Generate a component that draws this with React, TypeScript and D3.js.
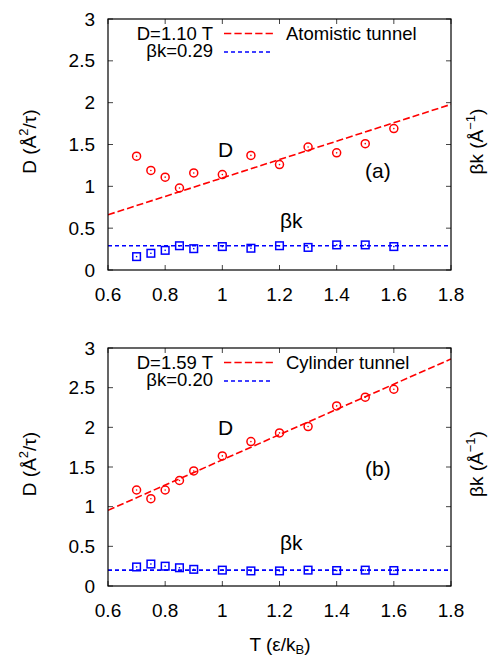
import React from "react";
import * as d3 from "d3";

// ---- data ----
const T = [0.7, 0.75, 0.8, 0.85, 0.9, 1.0, 1.1, 1.2, 1.3, 1.4, 1.5, 1.6];
const D_A = [1.36, 1.19, 1.11, 0.98, 1.16, 1.14, 1.37, 1.26, 1.47, 1.4, 1.51, 1.69];
const BK_A = [0.16, 0.2, 0.235, 0.29, 0.255, 0.28, 0.26, 0.29, 0.27, 0.3, 0.3, 0.28];
const D_B = [1.21, 1.1, 1.21, 1.33, 1.45, 1.64, 1.82, 1.93, 2.01, 2.27, 2.38, 2.48];
const BK_B = [0.24, 0.277, 0.25, 0.23, 0.21, 0.2, 0.19, 0.19, 0.2, 0.195, 0.2, 0.195];
const FIT_SLOPE = [1.1, 1.59];
const FIT_BK = [0.29, 0.2];
const FIT_D_LABELS = ["D=1.10 T", "D=1.59 T"];
const FIT_BK_LABELS = ["\u03b2k=0.29", "\u03b2k=0.20"];
const TUNNEL_LABELS = ["Atomistic tunnel", "Cylinder tunnel"];
const PANEL_LABELS = ["(a)", "(b)"];
const X_TICKS = [0.6, 0.8, 1.0, 1.2, 1.4, 1.6, 1.8];
const Y_TICKS = [0, 0.5, 1, 1.5, 2, 2.5, 3];
const X_DOMAIN: [number, number] = [0.6, 1.8];
const Y_DOMAIN: [number, number] = [0, 3];

const FONT = "'Liberation Sans', Arial, Helvetica, sans-serif";
const RED = "#ff0000";
const BLUE = "#0000ff";

const LEFT = 108;
const RIGHT = 451;

type PanelProps = {
  idx: number;
  top: number;
  bottom: number;
  dVals: number[];
  bkVals: number[];
};

function Panel({ idx, top, bottom, dVals, bkVals }: PanelProps) {
  const x = d3.scaleLinear().domain(X_DOMAIN).range([LEFT, RIGHT]);
  const y = d3.scaleLinear().domain(Y_DOMAIN).range([bottom, top]);
  const slope = FIT_SLOPE[idx];
  const bk = FIT_BK[idx];
  const fitLine = d3
    .line<number>()
    .x((t) => x(t))
    .y((t) => y(slope * t));
  const bkLine = d3
    .line<number>()
    .x((t) => x(t))
    .y(() => y(bk));
  const clipId = `clip${idx}`;
  const tick = 5;
  const mid = (top + bottom) / 2 - 3;
  return (
    <g>
      <defs>
        <clipPath id={clipId}>
          <rect x={LEFT} y={top} width={RIGHT - LEFT} height={bottom - top} />
        </clipPath>
      </defs>
      {/* ticks */}
      {Y_TICKS.map((v) => (
        <g key={"y" + v}>
          <line x1={LEFT} x2={LEFT + tick} y1={y(v)} y2={y(v)} stroke="#444" strokeWidth={1} />
          <line x1={RIGHT} x2={RIGHT - tick} y1={y(v)} y2={y(v)} stroke="#444" strokeWidth={1} />
          <text x={LEFT - 13} y={y(v) + 6.5} textAnchor="end" fontSize={19} fontFamily={FONT}>
            {String(v)}
          </text>
        </g>
      ))}
      {X_TICKS.map((v) => (
        <g key={"x" + v}>
          <line x1={x(v)} x2={x(v)} y1={bottom} y2={bottom - tick} stroke="#444" strokeWidth={1} />
          <line x1={x(v)} x2={x(v)} y1={top} y2={top + tick} stroke="#444" strokeWidth={1} />
          <text x={x(v)} y={bottom + 31} textAnchor="middle" fontSize={19} fontFamily={FONT}>
            {String(v)}
          </text>
        </g>
      ))}
      {/* fit lines */}
      <g clipPath={`url(#${clipId})`}>
        <path d={fitLine(X_DOMAIN) || ""} stroke={RED} strokeWidth={1.6} fill="none" strokeDasharray="7,3" />
        <path d={bkLine(X_DOMAIN) || ""} stroke={BLUE} strokeWidth={1.6} fill="none" strokeDasharray="4,3" />
      </g>
      {/* markers */}
      {T.map((t, i) => (
        <g key={"d" + i}>
          <circle cx={x(t)} cy={y(dVals[i])} r={4} fill="none" stroke={RED} strokeWidth={1.5} />
          <circle cx={x(t)} cy={y(dVals[i])} r={0.8} fill={RED} />
        </g>
      ))}
      {T.map((t, i) => (
        <g key={"b" + i}>
          <rect x={x(t) - 3.8} y={y(bkVals[i]) - 3.8} width={7.6} height={7.6} fill="none" stroke={BLUE} strokeWidth={1.5} />
          <rect x={x(t) - 0.7} y={y(bkVals[i]) - 0.7} width={1.4} height={1.4} fill={BLUE} />
        </g>
      ))}
      {/* frame */}
      <rect x={LEFT} y={top} width={RIGHT - LEFT} height={bottom - top} fill="none" stroke="#000" strokeWidth={1.2} />
      {/* legend */}
      <text x={213} y={top + 20.5} textAnchor="end" fontSize={18.5} fontFamily={FONT}>
        {FIT_D_LABELS[idx]}
      </text>
      <line x1={224} x2={273} y1={top + 14.5} y2={top + 14.5} stroke={RED} strokeWidth={1.6} strokeDasharray="7.3,3.1" />
      <text x={286} y={top + 20.5} fontSize={18.5} fontFamily={FONT}>
        {TUNNEL_LABELS[idx]}
      </text>
      <text x={213} y={top + 37.5} textAnchor="end" fontSize={18.5} fontFamily={FONT}>
        {FIT_BK_LABELS[idx]}
      </text>
      <line x1={224} x2={273} y1={top + 33} y2={top + 33} stroke={BLUE} strokeWidth={1.6} strokeDasharray="4,3" />
      {/* inner labels */}
      <text x={218} y={top + (idx === 0 ? 138 : 87)} fontSize={21} fontFamily={FONT}>
        D
      </text>
      <text x={365} y={top + (idx === 0 ? 159 : 128)} fontSize={21} fontFamily={FONT}>
        {PANEL_LABELS[idx]}
      </text>
      <text x={280} y={top + (idx === 0 ? 209 : 202)} fontSize={21} fontFamily={FONT}>
        {"\u03b2k"}
      </text>
      {/* axis titles */}
      <text transform={`translate(36,${mid}) rotate(-90)`} textAnchor="middle" fontSize={19} fontFamily={FONT}>
        {"D (\u00c5"}
        <tspan dy={-8} fontSize={13}>2</tspan>
        <tspan dy={8}>{"/\u03c4)"}</tspan>
      </text>
      <text transform={`translate(483,${mid}) rotate(-90)`} textAnchor="middle" fontSize={19} fontFamily={FONT}>
        {"\u03b2k (\u00c5"}
        <tspan dy={-8} fontSize={13}>{"\u22121"}</tspan>
        <tspan dy={8}>)</tspan>
      </text>
    </g>
  );
}

export default function App() {
  return (
    <svg
      width={498}
      height={656}
      style={{ position: "absolute", left: 0, top: 0, background: "#fff" }}
    >
      <rect x={0} y={0} width={498} height={656} fill="#fff" />
      <Panel idx={0} top={19} bottom={270} dVals={D_A} bkVals={BK_A} />
      <Panel idx={1} top={348} bottom={586} dVals={D_B} bkVals={BK_B} />
      <text x={280} y={651} textAnchor="middle" fontSize={19} fontFamily={FONT}>
        {"T (\u03b5/k"}
        <tspan dy={3} fontSize={13}>B</tspan>
        <tspan dy={-3}>)</tspan>
      </text>
    </svg>
  );
}
